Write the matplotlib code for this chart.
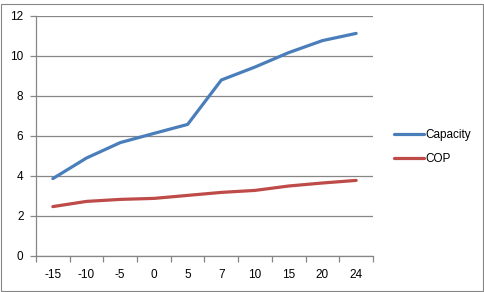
import matplotlib
matplotlib.use("Agg")
import matplotlib.pyplot as plt
from matplotlib.patches import Rectangle
import numpy as np

# data
temps = ["-15", "-10", "-5", "0", "5", "7", "10", "15", "20", "24"]
capacity = [3.87, 4.9, 5.67, 6.13, 6.58, 8.8, 9.45, 10.17, 10.77, 11.13]
cop = [2.47, 2.73, 2.83, 2.88, 3.03, 3.18, 3.28, 3.5, 3.65, 3.78]

plt.rcParams['font.family'] = ['Liberation Sans', 'DejaVu Sans']

fig = plt.figure(figsize=(4.85, 2.92), dpi=100)
ax = fig.add_axes([36 / 485, 1 - 256 / 292, 337 / 485, 240 / 292])

x = np.arange(len(temps))
ax.plot(x, capacity, color="#4A7EBB", lw=2.3, solid_capstyle="round", label="Capacity")
ax.plot(x, cop, color="#BE4B48", lw=2.3, solid_capstyle="round", label="COP")

ax.set_xlim(-0.5, len(temps) - 0.5)
ax.set_ylim(0, 12)
ax.set_yticks(range(0, 13, 2))
ax.yaxis.grid(True, color="#868686", lw=0.9)
ax.set_axisbelow(True)

# category labels centred, tick marks between categories
ax.set_xticks(x)
ax.set_xticklabels(temps)
ax.set_xticks(np.arange(-0.5, len(temps)), minor=True)
ax.tick_params(axis="x", which="major", length=0, pad=9, labelsize=8.5)
ax.tick_params(axis="x", which="minor", length=4, color="#868686", width=0.9)
ax.tick_params(axis="y", length=4, color="#868686", width=0.9, pad=5, labelsize=8.5)

for s in ["top", "right"]:
    ax.spines[s].set_visible(False)
for s in ["left", "bottom"]:
    ax.spines[s].set_color("#868686")
    ax.spines[s].set_linewidth(0.9)

ax.legend(loc="center left", bbox_to_anchor=(1.03, 0.453), frameon=False,
          fontsize=8.5, handlelength=2.6, handletextpad=0.1, labelspacing=1.0)

fig.patches.append(Rectangle((1 / 485, 1 / 292), 482 / 485, 287 / 292,
                             transform=fig.transFigure, fill=False,
                             edgecolor="#868686", lw=0.8))

fig.savefig("out.png", dpi=100)
